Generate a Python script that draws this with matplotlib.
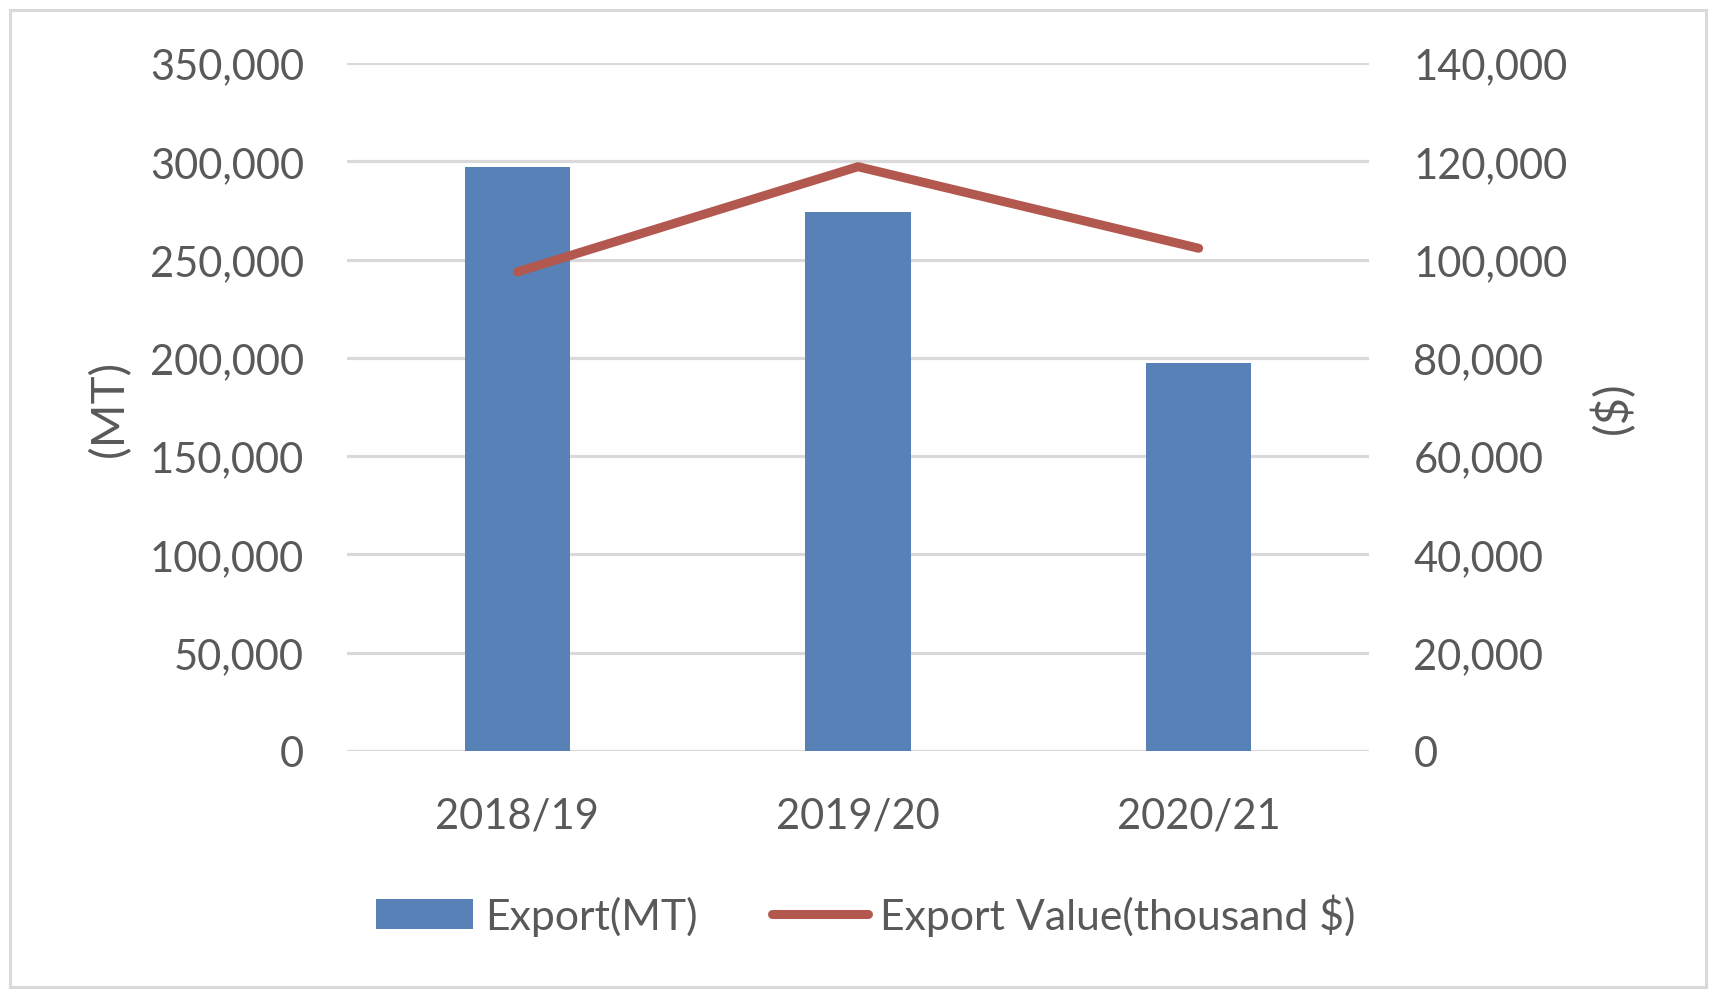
import matplotlib
matplotlib.use("Agg")
import matplotlib.pyplot as plt
from matplotlib.patches import Rectangle, Patch
from matplotlib.lines import Line2D
from matplotlib.ticker import FuncFormatter, MultipleLocator

plt.rcParams['font.family'] = ['Lato', 'DejaVu Sans']

categories = ["2018/19", "2019/20", "2020/21"]
export_mt = [297000, 274000, 197500]
export_value = [97500, 118900, 102300]
left_ticks_max = 350000
right_ticks_max = 140000

TEXT = "#595959"
GRID = "#D9D9D9"
BAR = "#5781B7"
LINE = "#B3584F"
FS = 30

W, H = 1722, 1004
fig = plt.figure(figsize=(W / 100, H / 100), dpi=100)
ax = fig.add_axes([347 / W, 1 - 752 / H, (1369 - 347) / W, (752 - 64) / H])
ax2 = ax.twinx()

x = list(range(len(categories)))
ax.bar(x, export_mt, width=0.31, color=BAR, zorder=3)
ax.set_ylim(0, left_ticks_max)
ax.set_xlim(-0.5, len(categories) - 0.5)
ax.yaxis.set_major_locator(MultipleLocator(50000))
ax.yaxis.set_major_formatter(FuncFormatter(lambda v, p: f"{int(v):,}"))
ax.grid(axis='y', color=GRID, linewidth=2.3, zorder=0)
ax.set_axisbelow(True)
ax.set_xticks(x)
ax.set_xticklabels(categories)

ax2.plot(x, export_value, color=LINE, linewidth=6.5, solid_capstyle='round', zorder=4)
ax2.set_ylim(0, right_ticks_max)
ax2.yaxis.set_major_locator(MultipleLocator(20000))
ax2.yaxis.set_major_formatter(FuncFormatter(lambda v, p: f"{int(v):,}"))

for a in (ax, ax2):
    for s in a.spines.values():
        s.set_visible(False)
    a.tick_params(length=0, labelsize=FS, labelcolor=TEXT)
ax.tick_params(axis='y', pad=31)
ax.tick_params(axis='x', pad=33)
ax2.tick_params(axis='y', pad=32)

fig.text(110 / W, 1 - 408 / H, "(MT)", rotation=90, ha='center', va='center',
         fontsize=34, color=TEXT)
fig.text(1612 / W, 1 - 408 / H, "($)", rotation=90, ha='center', va='center',
         fontsize=34, color=TEXT)

handles = [Patch(facecolor=BAR, edgecolor='none'),
           Line2D([0], [0], color=LINE, linewidth=6.5, solid_capstyle='round')]
leg = fig.legend(handles, ["Export(MT)", "Export Value(thousand $)"],
                 loc='center', bbox_to_anchor=(866 / W, 1 - 916 / H), ncol=2,
                 frameon=False, fontsize=30.8, handlelength=2.25, handletextpad=0.28,
                 columnspacing=1.75, borderpad=0, handleheight=0.7)
for t in leg.get_texts():
    t.set_color(TEXT)

fig.patches.append(Rectangle((10 / W, 1 - 988 / H), (1706 - 10) / W, (988 - 11) / H,
                             transform=fig.transFigure, fill=False,
                             edgecolor=GRID, linewidth=2.2))

fig.savefig("out.png", dpi=100, facecolor='white')
